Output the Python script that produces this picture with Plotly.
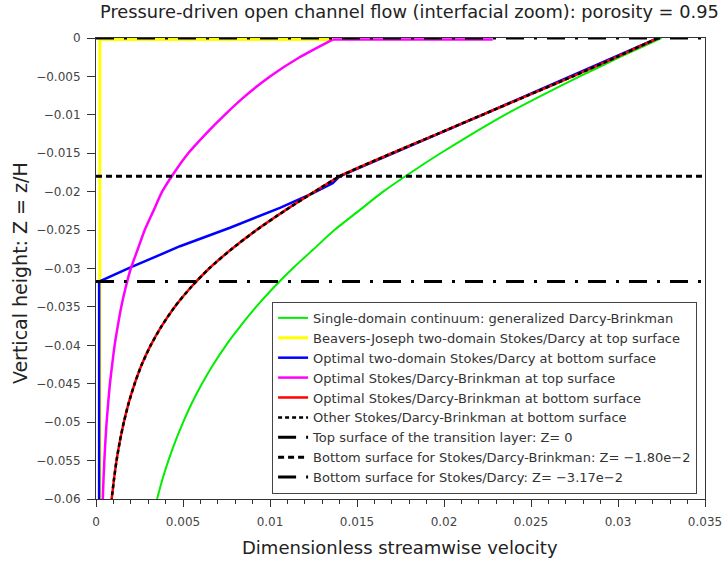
import plotly.graph_objects as go

# ---- data ----
green_y = [0.0, -0.0025, -0.005, -0.0075, -0.01, -0.0125, -0.015, -0.0175, -0.02, -0.0225, -0.025, -0.0275, -0.03,
           -0.0325, -0.035, -0.0375, -0.04, -0.0425, -0.045, -0.0475, -0.05, -0.0525, -0.055, -0.0575, -0.06]
green_x = [0.0325, 0.0301, 0.0278, 0.0256, 0.0235, 0.0216, 0.0198, 0.0181, 0.0165, 0.0151, 0.0137, 0.0125, 0.0113,
           0.0102, 0.0092, 0.0083, 0.00747, 0.00674, 0.00609, 0.00551, 0.00501, 0.00456, 0.00416, 0.00381, 0.00351]

yellow_x = [0.00022, 0.00022, 0.0136]
yellow_y = [-0.0600, -0.0002, -0.0002]

blue_x = [0.00018, 0.00018, 0.00195, 0.00483, 0.0077, 0.01057, 0.01247, 0.0136, 0.0140, 0.0222, 0.0323]
blue_y = [-0.0600, -0.0317, -0.0299, -0.0271, -0.0247, -0.0221, -0.0202, -0.0189, -0.0180, -0.0100, 0.0]

magenta_top_x = [0.0228, 0.0136]
magenta_top_y = [-0.0002, -0.0002]
magenta_y = [-0.0002, -0.0025, -0.005, -0.0075, -0.01, -0.0125, -0.015, -0.0175, -0.02, -0.0225, -0.025, -0.0275, -0.03,
             -0.0325, -0.035, -0.0375, -0.04, -0.0425, -0.045, -0.0475, -0.05, -0.0525, -0.055, -0.0575, -0.06]
magenta_x = [0.0136, 0.0117, 0.0100, 0.0086, 0.0074, 0.0063, 0.0053, 0.0045, 0.0038, 0.0033, 0.0028, 0.0024, 0.0020,
             0.0017, 0.00145, 0.00125, 0.00107, 0.00093, 0.0008, 0.0007, 0.00061, 0.00054, 0.00048, 0.00043, 0.00039]

red_y = [0.0, -0.0025, -0.005, -0.0075, -0.01, -0.0125, -0.015, -0.018, -0.02, -0.0225, -0.025, -0.0275, -0.03,
         -0.0325, -0.035, -0.0375, -0.04, -0.0425, -0.045, -0.0475, -0.05, -0.0525, -0.055, -0.0575, -0.06]
red_x = [0.0323, 0.0299, 0.0274, 0.0248, 0.0222, 0.0196, 0.0170, 0.0140, 0.01256, 0.01083, 0.00922, 0.00778, 0.0065,
         0.00543, 0.00452, 0.00377, 0.00314, 0.00263, 0.00222, 0.00188, 0.0016, 0.00137, 0.00118, 0.00103, 0.0009]

other_x = list(red_x)
other_y = list(red_y)

x_span = [0.0, 0.035]
z_top = 0.0
z_bottom_sdb = -0.0180
z_bottom_sd = -0.0317

x_ticks = [0, 0.005, 0.01, 0.015, 0.02, 0.025, 0.03, 0.035]
x_tick_text = ["0", "0.005", "0.01", "0.015", "0.02", "0.025", "0.03", "0.035"]
y_ticks = [0, -0.005, -0.01, -0.015, -0.02, -0.025, -0.03, -0.035, -0.04, -0.045, -0.05, -0.055, -0.06]
y_tick_text = ["0", "\u22120.005", "\u22120.01", "\u22120.015", "\u22120.02", "\u22120.025", "\u22120.03", "\u22120.035",
               "\u22120.04", "\u22120.045", "\u22120.05", "\u22120.055", "\u22120.06"]

names = [
    "Single-domain continuum: generalized Darcy-Brinkman",
    "Beavers-Joseph two-domain Stokes/Darcy at top surface",
    "Optimal two-domain Stokes/Darcy at bottom surface",
    "Optimal Stokes/Darcy-Brinkman at top surface",
    "Optimal Stokes/Darcy-Brinkman at bottom surface",
    "Other Stokes/Darcy-Brinkman at bottom surface",
    "Top surface of the transition layer: Z= 0",
    "Bottom surface for Stokes/Darcy-Brinkman: Z= \u22121.80e\u22122",
    "Bottom surface for Stokes/Darcy: Z= \u22123.17e\u22122",
]
title_text = "Pressure-driven open channel flow (interfacial zoom): porosity = 0.95"
x_title = "Dimensionless streamwise velocity"
y_title = "Vertical height: Z = z/H"

FONT = "DejaVu Sans"
DASHDOT = "18px,10px,3px,10px"
SPL = dict(shape="spline", smoothing=0.6)

fig = go.Figure()
fig.add_trace(go.Scatter(x=green_x, y=green_y, mode="lines", name=names[0],
                         line=dict(color="#00ee00", width=2, **SPL)))
fig.add_trace(go.Scatter(x=yellow_x, y=yellow_y, mode="lines", name=names[1],
                         line=dict(color="#ffff00", width=3)))
fig.add_trace(go.Scatter(x=blue_x, y=blue_y, mode="lines", name=names[2],
                         line=dict(color="#0000ff", width=2.5)))
fig.add_trace(go.Scatter(x=magenta_top_x, y=magenta_top_y, mode="lines", name=names[3], legendgroup="mag",
                         showlegend=False, line=dict(color="#ff00ff", width=2.5)))
fig.add_trace(go.Scatter(x=magenta_x, y=magenta_y, mode="lines", name=names[3], legendgroup="mag",
                         line=dict(color="#ff00ff", width=2.5, **SPL)))
fig.add_trace(go.Scatter(x=red_x, y=red_y, mode="lines", name=names[4],
                         line=dict(color="#ff0000", width=2.5, **SPL)))
fig.add_trace(go.Scatter(x=other_x, y=other_y, mode="lines", name=names[5],
                         line=dict(color="#000000", width=2.5, dash="4px,3px", **SPL)))
fig.add_trace(go.Scatter(x=x_span, y=[z_top, z_top], mode="lines", name=names[6],
                         line=dict(color="#000000", width=3, dash=DASHDOT)))
fig.add_trace(go.Scatter(x=x_span, y=[z_bottom_sdb, z_bottom_sdb], mode="lines", name=names[7],
                         line=dict(color="#000000", width=3, dash="6px,4px")))
fig.add_trace(go.Scatter(x=x_span, y=[z_bottom_sd, z_bottom_sd], mode="lines", name=names[8],
                         line=dict(color="#000000", width=3, dash=DASHDOT)))

fig.update_layout(
    width=724, height=566,
    margin=dict(l=96, r=19, t=38, b=67, autoexpand=False),
    paper_bgcolor="white", plot_bgcolor="white",
    font=dict(family=FONT, color="#333333"),
    showlegend=True,
    hovermode=False,
    legend=dict(x=0.987, y=0.011, xanchor="right", yanchor="bottom",
                bgcolor="white", bordercolor="#444444", borderwidth=1,
                font=dict(family=FONT, size=13, color="#333333"), tracegroupgap=0),
    annotations=[
        dict(text=title_text, xref="paper", yref="paper", x=0.514, y=1.058, xanchor="center", yanchor="middle",
             showarrow=False, font=dict(family=FONT, size=17.8, color="#222222")),
        dict(text=x_title, xref="paper", yref="paper", x=0.499, y=-0.106, xanchor="center", yanchor="middle",
             showarrow=False, font=dict(family=FONT, size=18, color="#222222")),
        dict(text=y_title, xref="paper", yref="paper", x=-0.1248, y=0.49, xanchor="center", yanchor="middle",
             textangle=-90, showarrow=False, font=dict(family=FONT, size=19, color="#222222")),
    ],
)
fig.update_xaxes(
    range=[0, 0.035], tickvals=x_ticks, ticktext=x_tick_text, automargin=False,
    ticks="outside", ticklen=7, tickcolor="#333333", tickwidth=1, ticklabelstandoff=5,
    minor=dict(dtick=0.001, ticks="outside", ticklen=4, tickcolor="#333333"),
    showline=True, linecolor="#333333", linewidth=1, mirror=True,
    showgrid=False, zeroline=False,
    tickfont=dict(family=FONT, size=12, color="#444444"),
)
fig.update_yaxes(
    range=[-0.06, 0], tickvals=y_ticks, ticktext=y_tick_text, automargin=False,
    ticks="outside", ticklen=8, tickcolor="#333333", tickwidth=1, ticklabelstandoff=4,
    showline=True, linecolor="#333333", linewidth=1, mirror=True,
    showgrid=False, zeroline=False,
    tickfont=dict(family=FONT, size=12, color="#444444"),
)

# remove the browser's default 8px body margin so the 724x566 figure fills the window exactly
fig.write_html("out.html", config={"displayModeBar": False},
               post_script="document.body.style.margin='0';document.body.style.overflow='hidden';")
